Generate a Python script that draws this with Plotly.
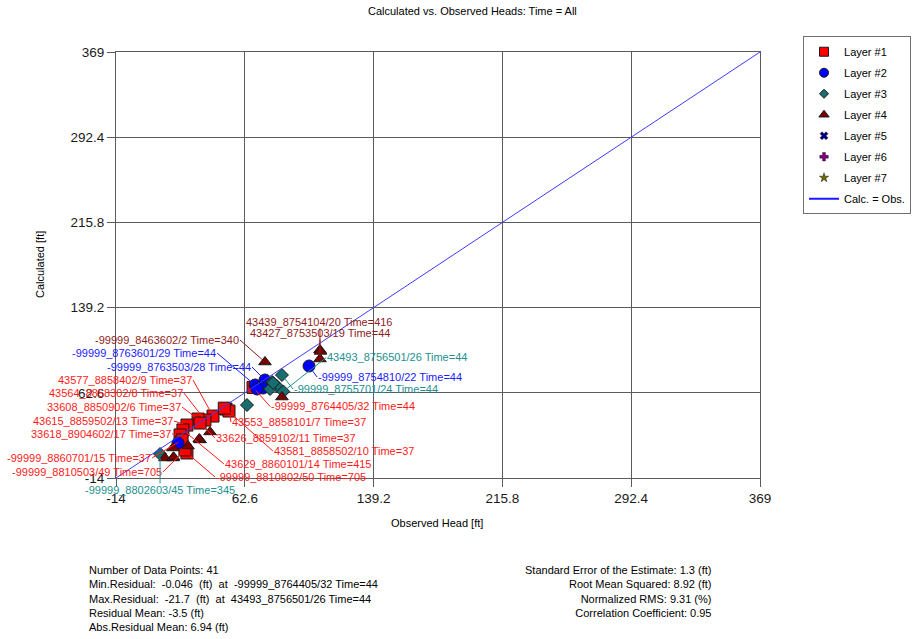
import plotly.graph_objects as go

# Axis ticks (same scale on both axes)
tick_vals = [-14, 62.6, 139.2, 215.8, 292.4, 369]
tick_text = ["-14", "62.6", "139.2", "215.8", "292.4", "369"]
axis_range = [-14, 369]

# Layer #1 observations
l1_names = ["-99999_8764405/32 Time=44", "43581_8858502/10 Time=37", "43553_8858101/7 Time=37",
            "43577_8858402/9 Time=37", "43564_8858302/8 Time=37", "33608_8850902/6 Time=37",
            "33626_8859102/11 Time=37", "43615_8859502/13 Time=37", "43629_8860101/14 Time=415",
            "33618_8904602/17 Time=37", "-99999_8810802/50 Time=705", "-99999_8810503/49 Time=705",
            "-99999_8860701/15 Time=37", ""]
l1_obs = [67.5, 51.4, 53.2, 43.7, 38.9, 34.8, 36.0, 28.2, 25.8, 24.1, 28.2, 27.0, 25.3, 50.4]
l1_calc = [67.454, 48.0, 46.2, 41.7, 38.1, 39.0, 35.4, 33.6, 29.2, 24.7, 8.5, 11.2, 20.2, 48.8]

# Layer #2 observations
l2_names = ["-99999_8763601/29 Time=44", "-99999_8763503/28 Time=44", "",
            "-99999_8754810/22 Time=44", "", ""]
l2_obs = [68.7, 74.6, 73.4, 100.8, 22.9, 69.9]
l2_calc = [69.6, 74.1, 66.9, 86.7, 17.5, 66.0]

# Layer #3 observations
l3_names = ["-99999_8755701/24 Time=44", "", "", "", "", "-99999_8802603/45 Time=345",
            "43493_8756501/26 Time=44", ""]
l3_obs = [84.7, 78.8, 81.7, 77.6, 63.9, 12.2, 85.5, 79.5]
l3_calc = [78.6, 72.3, 68.7, 66.0, 51.6, 7.6, 63.8, 71.5]

# Layer #4 observations
l4_names = ["-99999_8463602/2 Time=340", "43439_8754104/20 Time=416", "43427_8753503/19 Time=44",
            "", "", "", "", "", "", "", "", "", ""]
l4_obs = [74.6, 107.3, 107.3, 84.7, 41.9, 36.0, 28.8, 19.9, 19.9, 15.1, 35.5, 107.6, 20.3]
l4_calc = [90.3, 101.1, 93.0, 58.8, 27.4, 20.2, 14.8, 13.0, 4.0, 4.0, 21.0, 99.8, 4.6]

# Summary statistics
stats_left = ["Number of Data Points: 41",
              "Min.Residual:  -0.046  (ft)  at  -99999_8764405/32 Time=44",
              "Max.Residual:  -21.7  (ft)  at  43493_8756501/26 Time=44",
              "Residual Mean: -3.5 (ft)",
              "Abs.Residual Mean: 6.94 (ft)"]
stats_right = ["Standard Error of the Estimate: 1.3 (ft)",
               "Root Mean Squared: 8.92 (ft)",
               "Normalized RMS: 9.31 (%)",
               "Correlation Coefficient: 0.95"]

FONT = "Liberation Sans, Arial, sans-serif"

# Label placement: pixel offset of the label anchor from its point, and anchor side
label_place = {
    "-99999_8463602/2 Time=340": (-25, -22, "right"),
    "-99999_8763601/29 Time=44": (-38, -32, "right"),
    "-99999_8763503/28 Time=44": (-13, -13, "right"),
    "43577_8858402/9 Time=37": (-20, -36, "right"),
    "43564_8858302/8 Time=37": (-21, -27, "right"),
    "33608_8850902/6 Time=37": (-16, -12, "right"),
    "43615_8859502/13 Time=37": (-13, -4, "right"),
    "33618_8904602/17 Time=37": (-8, -1, "right"),
    "-99999_8860701/15 Time=37": (-30, 18, "right"),
    "-99999_8810503/49 Time=705": (-22, 22, "right"),
    "43493_8756501/26 Time=44": (43, -34, "left"),
    "-99999_8754810/22 Time=44": (8, 11, "left"),
    "-99999_8755701/24 Time=44": (11, 14, "left"),
    "-99999_8764405/32 Time=44": (17, 19, "left"),
    "43553_8858101/7 Time=37": (2, 11, "left"),
    "33626_8859102/11 Time=37": (15, 15, "left"),
    "43581_8858502/10 Time=37": (47, 42, "left"),
    "43629_8860101/14 Time=415": (41, 34, "left"),
    "-99999_8810802/50 Time=705": (28, 24, "left"),
    "43439_8754104/20 Time=416": (0, -28, "center"),
    "43427_8753503/19 Time=44": (0, -26, "center"),
    "-99999_8802603/45 Time=345": (0, 36, "center"),
}

layers = [
    dict(name="Layer #1", obs=l1_obs, calc=l1_calc, names=l1_names, symbol="square",
         color="#ff0000", size=12, key_size=9, label_color="#ff1a1a"),
    dict(name="Layer #2", obs=l2_obs, calc=l2_calc, names=l2_names, symbol="circle",
         color="#0000ff", size=12, key_size=9, label_color="#1a1aff"),
    dict(name="Layer #3", obs=l3_obs, calc=l3_calc, names=l3_names, symbol="diamond",
         color="#176e6e", size=10, key_size=7, label_color="#239090"),
    dict(name="Layer #4", obs=l4_obs, calc=l4_calc, names=l4_names, symbol="triangle-up",
         color="#7a0000", size=11, key_size=9, label_color="#8f1c1c"),
]
empty_layers = [
    dict(name="Layer #5", symbol="x", color="#000080"),
    dict(name="Layer #6", symbol="cross", color="#800080"),
    dict(name="Layer #7", symbol="star", color="#6b6b00"),
]

fig = go.Figure()

# Observation markers (legend keys are drawn by smaller companion traces)
for ly in layers:
    fig.add_trace(go.Scatter(
        x=ly["obs"], y=ly["calc"], mode="markers", name=ly["name"], showlegend=False,
        marker=dict(symbol=ly["symbol"], color=ly["color"], size=ly["size"],
                    line=dict(color="#1a1a1a", width=1)),
        hoverinfo="x+y+text", text=ly["names"],
    ))

# 1:1 reference line
fig.add_trace(go.Scatter(
    x=axis_range, y=axis_range, mode="lines", name="Calc. = Obs.", showlegend=False,
    line=dict(color="#3c3cff", width=1),
))

# Legend keys
for ly in layers:
    fig.add_trace(go.Scatter(
        x=[None], y=[None], mode="markers", name=ly["name"], legendgroup=ly["name"],
        marker=dict(symbol=ly["symbol"], color=ly["color"], size=ly["key_size"],
                    line=dict(color="#1a1a1a", width=1)),
    ))
for ly in empty_layers:
    fig.add_trace(go.Scatter(
        x=[None], y=[None], mode="markers", name=ly["name"], legendgroup=ly["name"],
        marker=dict(symbol=ly["symbol"], color=ly["color"], size=7,
                    line=dict(color="#1a1a1a", width=0.5)),
    ))
fig.add_trace(go.Scatter(
    x=[None], y=[None], mode="lines", name="Calc. = Obs.", legendgroup="line",
    line=dict(color="#1a1aff", width=2),
))

annotations = []
for ly in layers:
    for xo, yc, nm in zip(ly["obs"], ly["calc"], ly["names"]):
        if not nm:
            continue
        ax, ay, anchor = label_place[nm]
        annotations.append(dict(
            x=xo, y=yc, xref="x", yref="y", text=nm, showarrow=True,
            arrowhead=0, arrowwidth=1, arrowcolor=ly["label_color"], standoff=4,
            ax=ax, ay=ay, xanchor=anchor, yanchor="middle", borderpad=0,
            font=dict(family=FONT, size=11, color=ly["label_color"]),
        ))

# Title and axis titles
annotations.append(dict(text="Calculated vs. Observed Heads: Time = All", xref="paper", yref="paper",
                        x=0.5543, y=1.0962, showarrow=False, xanchor="center", yanchor="middle",
                        font=dict(family=FONT, size=11, color="#000000")))
annotations.append(dict(text="Observed Head [ft]", xref="paper", yref="paper",
                        x=0.4984, y=-0.1056, showarrow=False, xanchor="center", yanchor="middle",
                        font=dict(family=FONT, size=11, color="#000000")))
annotations.append(dict(text="Calculated [ft]", xref="paper", yref="paper", textangle=-90,
                        x=-0.118, y=0.5, showarrow=False, xanchor="center", yanchor="middle",
                        font=dict(family=FONT, size=11, color="#000000")))

# Statistics blocks
annotations.append(dict(text="<br>".join(s.replace("  ", "\u00a0 ") for s in stats_left),
                        xref="paper", yref="paper", x=-0.045, y=-0.197, showarrow=False,
                        xanchor="left", yanchor="top", align="left",
                        font=dict(family=FONT, size=11, color="#000000")))
annotations.append(dict(text="<br>".join(stats_right),
                        xref="paper", yref="paper", x=0.927, y=-0.197, showarrow=False,
                        xanchor="right", yanchor="top", align="right",
                        font=dict(family=FONT, size=11, color="#000000")))

axis_style = dict(
    range=axis_range, tickmode="array", tickvals=tick_vals, ticktext=tick_text,
    showgrid=True, gridcolor="#5a5a5a", gridwidth=1.2, zeroline=False,
    showline=True, linecolor="#5a5a5a", linewidth=1.2, mirror=True,
    ticks="outside", ticklen=8, tickcolor="#5a5a5a", tickwidth=1.2,
    tickfont=dict(family=FONT, size=13.5, color="#1a1a1a"),
    fixedrange=True,
)

fig.update_layout(
    width=924, height=639,
    margin=dict(l=116, r=164, t=52, b=161, pad=0),
    paper_bgcolor="white", plot_bgcolor="white",
    font=dict(family=FONT, size=11, color="#000000"),
    xaxis=axis_style, yaxis=axis_style,
    showlegend=True,
    legend=dict(x=1.0668, y=1.037, xanchor="left", yanchor="top",
                bordercolor="#707070", borderwidth=1, bgcolor="white",
                tracegroupgap=2, font=dict(family=FONT, size=11, color="#000000")),
    annotations=annotations,
)

fig.write_html("out.html")
